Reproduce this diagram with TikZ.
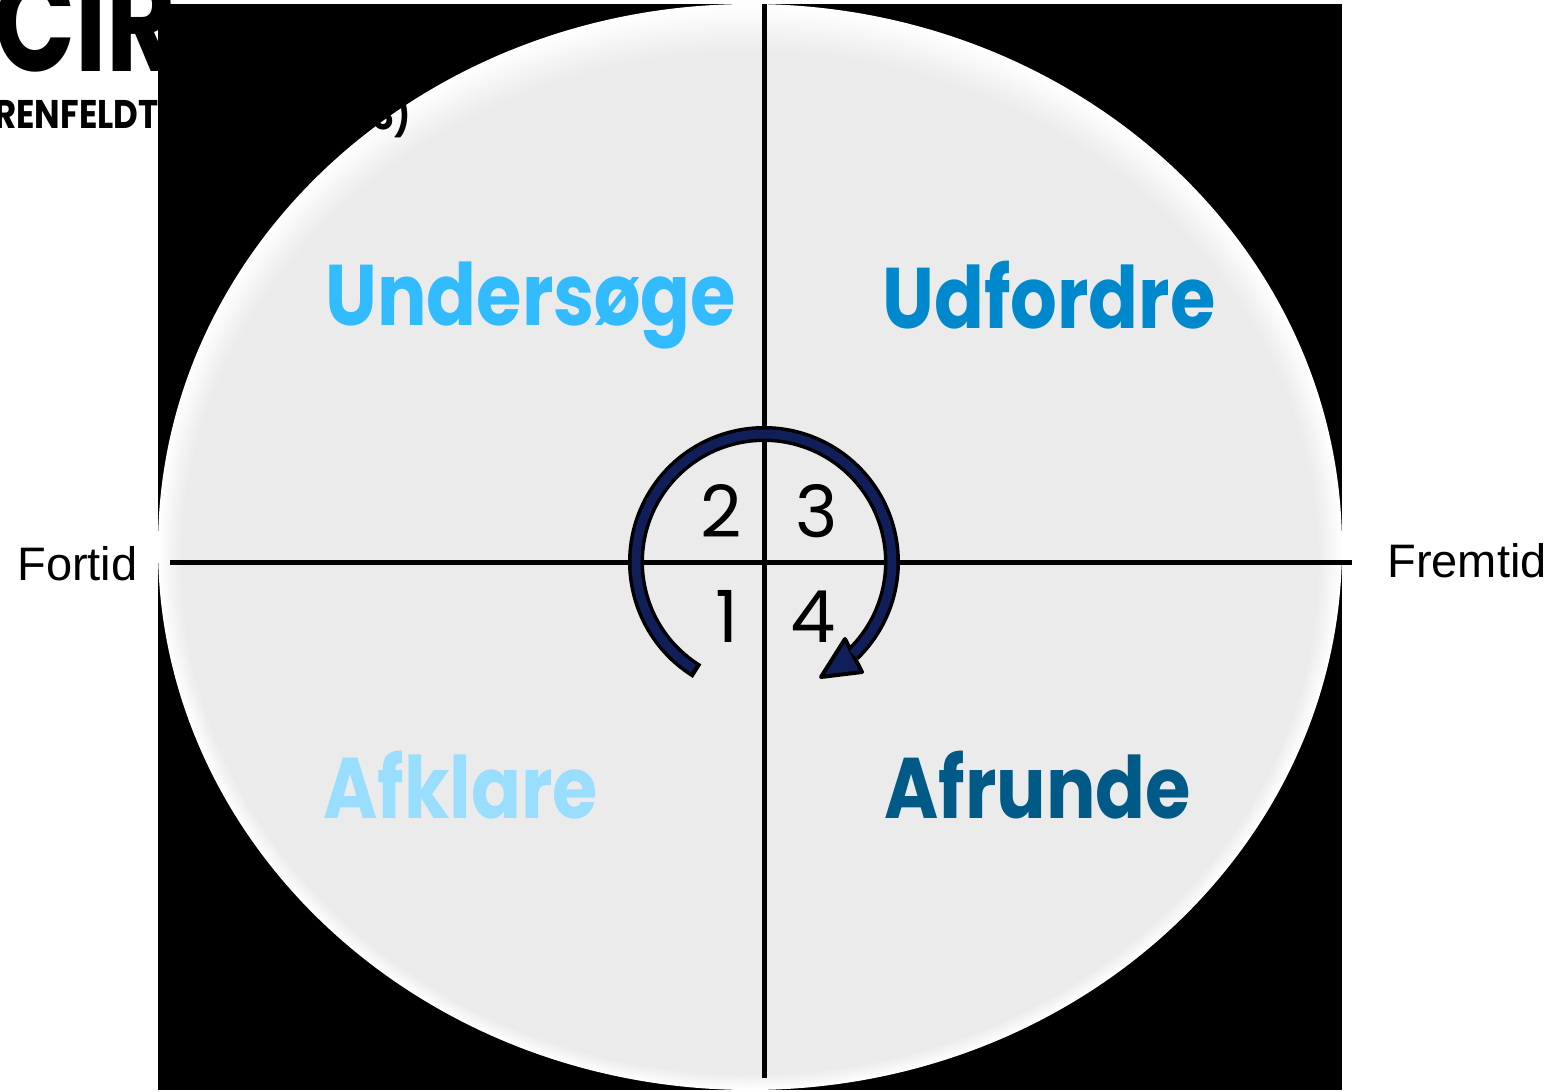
\documentclass[tikz,border=0pt]{standalone}
\usepackage{fontspec}
\setmainfont{Poppins}
\newfontfamily\sidefont{Liberation Sans}
\newfontfamily\headfont{Poppins}[FakeStretch=0.85]
\newfontfamily\bigheadfont{Poppins}[FakeStretch=0.76]
\newfontfamily\phasefont{Poppins}[FakeStretch=0.855]
\definecolor{ellgray}{HTML}{EBEBEB}
\definecolor{colA}{HTML}{33BBFF}
\definecolor{colB}{HTML}{0088CC}
\definecolor{colC}{HTML}{99DDFF}
\definecolor{colD}{HTML}{005A87}
\definecolor{navyband}{RGB}{16,30,90}
\tikzset{
  phase/.style={font=\phasefont\bfseries\fontsize{43}{43}\selectfont, inner sep=0pt, anchor=base west},
  numlab/.style={font=\fontsize{36}{36}\selectfont, inner sep=0pt, anchor=base},
  sidelab/.style={font=\sidefont\fontsize{23.5}{23.5}\selectfont, inner sep=0pt, anchor=base west},
  axisline/.style={line width=2.5pt, black},
}
\begin{document}
\begin{tikzpicture}[x=0.5pt,y=-0.5pt]
\useasboundingbox[fill=white] (0,0) rectangle (1555,1092);
% heading (mostly hidden behind the backdrop)
\node[font=\bigheadfont\bfseries\fontsize{70}{70}\selectfont, inner sep=0pt, anchor=base west] (title) at (-6,71) {CIR};
% dark backdrop
\fill[black] (158,4) rectangle (1342,1090);
% shaded disc
\foreach \k in {0,...,20} {
  \pgfmathsetmacro\mixw{100-5*\k}
  \fill[white!\mixw!ellgray] (750,547+0.8*\k) ellipse [x radius=592-1.2*\k, y radius=543-1.6*\k];
}
% axes
\coordinate (vtop) at (764,4);
\coordinate (vbot) at (764,1078);
\coordinate (hl) at (170,562);
\coordinate (hr) at (1352,562);
\draw[axisline] (vtop) -- (vbot);
\draw[axisline] (hl) -- (hr);
% cycle arrow
\coordinate (c) at (764,562);
\draw[line width=8pt, black] ([shift={(121.5:128)}]c) arc[start angle=121.5, end angle=406, radius=128];
\coordinate (tip) at (821,677);
\coordinate (hb1) at (845,639);
\coordinate (hb2) at (862,672);
\filldraw[fill=navyband, draw=black, line width=2pt, line join=round] (tip) -- (hb1) -- (hb2) -- cycle;
\draw[line width=4.5pt, navyband] ([shift={(123.5:128)}]c) arc[start angle=123.5, end angle=406, radius=128];
% numbers
\node[numlab] (n2) at (721,537) {2};
\node[numlab] (n3) at (817,537) {3};
\node[numlab] (n1) at (727,642) {1};
\node[numlab] (n4) at (813,642) {4};
% phase labels
\node[phase, text=colA] (unders) at (325,325) {Undersøge};
\node[phase, text=colB] (udford) at (882,328) {Udfordre};
\node[phase, text=colC] (afklar) at (323,818) {Afklare};
\node[phase, text=colD] (afrund) at (884,818) {Afrunde};
% side labels
\node[sidelab] (fortid) at (17,580) {Fortid};
\node[sidelab] (fremtid) at (1387,577) {Fremtid};
% subtitle (partly hidden)
\node[font=\headfont\bfseries\fontsize{20}{20}\selectfont, inner sep=0pt, anchor=base west] (sub) at (-6,128) {RENFELDT};
\node[font=\headfont\bfseries\fontsize{20}{20}\selectfont, inner sep=0pt, anchor=base east] (subend) at (411,129) {8)};
\end{tikzpicture}
\end{document}
